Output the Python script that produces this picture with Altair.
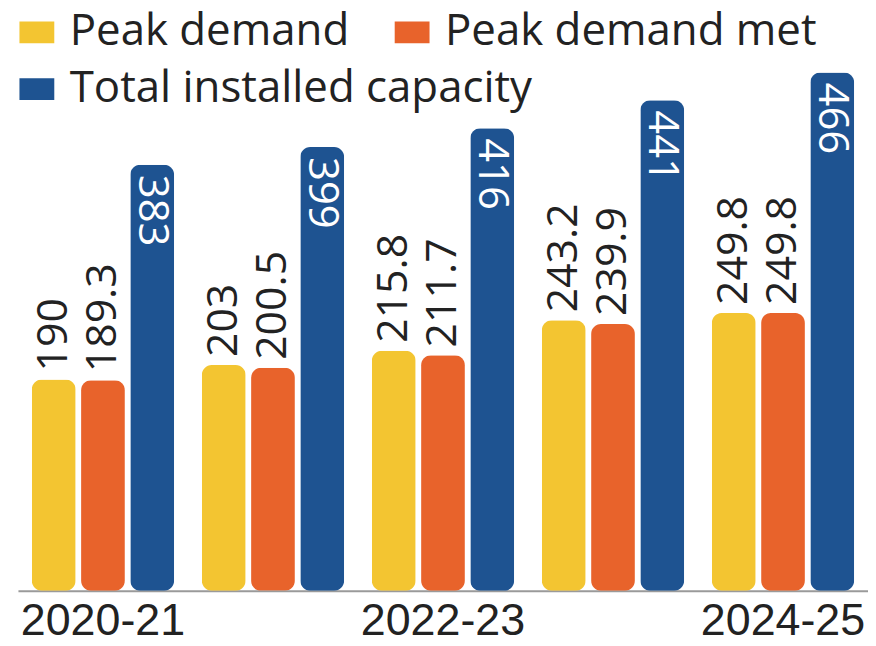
import altair as alt
import pandas as pd

years = ["2020-21", "2021-22", "2022-23", "2023-24", "2024-25"]
series = ["Peak demand", "Peak demand met", "Total installed capacity"]
peak_demand = [190, 203, 215.8, 243.2, 249.8]
peak_demand_met = [189.3, 200.5, 211.7, 239.9, 249.8]
installed_capacity = [383, 399, 416, 441, 466]
label_years = ["2020-21", "2022-23", "2024-25"]
colors = ["#F3C531", "#E8632B", "#1E5391"]

rows = []
for i, y in enumerate(years):
    for s, vals in zip(series, [peak_demand, peak_demand_met, installed_capacity]):
        v = vals[i]
        rows.append({"year": y, "series": s, "value": v,
                     "label": (str(int(v)) if float(v).is_integer() else str(v))})
df = pd.DataFrame(rows)

FONT = "Open Sans"
is_cap = alt.datum.series == "Total installed capacity"

x = alt.X("year:N", sort=years, title=None,
          scale=alt.Scale(paddingInner=0.163, paddingOuter=0.0815),
          axis=alt.Axis(values=label_years, labelAngle=0, labelFontSize=45,
                        labelFont="Liberation Sans", labelColor="#222222",
                        labelPadding=44, labelBaseline="alphabetic",
                        ticks=False, domainColor="#9a9a9a", domainWidth=2))
xoff = alt.XOffset("series:N", sort=series,
                   scale=alt.Scale(domain=series, paddingInner=0.11, paddingOuter=0))
y = alt.Y("value:Q", title=None, scale=alt.Scale(domain=[0, 512]), axis=None)

legend_common = dict(title=None, orient="none", direction="horizontal",
                     labelFont=FONT, labelFontSize=44, labelColor="#222222",
                     labelLimit=800, labelOffset=11,
                     symbolType="M-1,-0.63H1V0.63H-1Z", symbolSize=1225,
                     symbolStrokeWidth=0, symbolOpacity=1,
                     columnPadding=41, padding=0)

bars_demand = alt.Chart(df).transform_filter(~is_cap).mark_bar(cornerRadius=10).encode(
    x=x, xOffset=xoff, y=y,
    color=alt.Color("series:N", sort=series,
                    scale=alt.Scale(domain=series[:2], range=colors[:2]),
                    legend=alt.Legend(legendX=-3, legendY=-11, **legend_common)),
)

bars_cap = alt.Chart(df).transform_filter(is_cap).mark_bar(cornerRadius=10).encode(
    x=x, xOffset=xoff, y=y,
    color=alt.Color("series:N",
                    scale=alt.Scale(domain=series[2:], range=colors[2:]),
                    legend=alt.Legend(legendX=-3, legendY=46, **legend_common)),
)

outer = alt.Chart(df).transform_filter(~is_cap).mark_text(
    angle=270, align="left", baseline="middle", dx=8,
    font=FONT, fontSize=43, color="#222222").encode(
    x=x, xOffset=xoff, y=y, text="label:N")

inner = alt.Chart(df).transform_filter(is_cap).mark_text(
    angle=90, align="left", baseline="middle", dx=10,
    font=FONT, fontSize=42, color="white").encode(
    x=x, xOffset=xoff, y=y, text="label:N")

chart = alt.layer(bars_demand, bars_cap, outer, inner).resolve_scale(
    color="independent"
).properties(
    width=854, height=572,
    autosize=alt.AutoSizeParams(type="none"),
    padding={"left": 10, "top": 12, "right": 0, "bottom": 54},
).configure_view(stroke=None)

chart.save("out.html", embed_options={"renderer": "svg", "actions": False})
